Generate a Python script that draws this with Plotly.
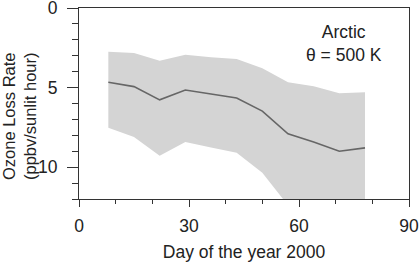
import plotly.graph_objects as go

days = [8, 15, 22, 29, 36, 43, 50, 57, 64, 71, 78]
mean_rate = [4.67, 4.94, 5.77, 5.15, 5.40, 5.65, 6.48, 7.90, 8.42, 9.00, 8.79]
upper_rate = [2.75, 2.83, 3.31, 2.94, 3.10, 3.21, 3.79, 4.67, 4.92, 5.35, 5.29]
lower_rate = [7.52, 8.10, 9.29, 8.42, 8.77, 9.10, 10.35, 12.4, 13.0, 13.6, 14.0]

fig = go.Figure()
fig.add_trace(go.Scatter(x=days, y=upper_rate, mode="lines",
                         line=dict(width=0, color="#d4d4d4"), showlegend=False, hoverinfo="skip"))
fig.add_trace(go.Scatter(x=days, y=lower_rate, mode="lines", fill="tonexty",
                         fillcolor="#d4d4d4", line=dict(width=0, color="#d4d4d4"),
                         showlegend=False, hoverinfo="skip"))
fig.add_trace(go.Scatter(x=days, y=mean_rate, mode="lines",
                         line=dict(width=1.6, color="#666666"), showlegend=False))

font = dict(family="Liberation Sans, Arial, sans-serif", size=17.5, color="#222222")
title_font = dict(family="Liberation Sans, Arial, sans-serif", size=16.5, color="#222222")

L, R, T, B = 79, 10, 8, 63
W, H = 419, 262
pw, ph = W - L - R, H - T - B

fig.update_layout(
    width=W, height=H,
    margin=dict(l=L, r=R, t=T, b=B),
    plot_bgcolor="white", paper_bgcolor="white",
    font=font,
    xaxis=dict(range=[0, 90], tickvals=[0, 30, 60, 90], ticks="outside", ticklen=7,
               tickcolor="#333", tickwidth=1, showline=True, linecolor="#333", linewidth=1,
               mirror=True, showgrid=False, zeroline=False, ticklabeloverflow="allow",
               automargin=False, ticklabelstandoff=4,
               minor=dict(dtick=10, ticks="outside", ticklen=4, tickcolor="#333", showgrid=False),
               title=dict(text="Day of the year 2000", standoff=10, font=font)),
    yaxis=dict(range=[12, 0], tickvals=[0, 5, 10], ticks="outside", ticklen=11,
               tickcolor="#333", tickwidth=1, showline=True, linecolor="#333", linewidth=1,
               mirror=True, showgrid=False, zeroline=False, ticklabeloverflow="allow",
               automargin=False, ticklabelstandoff=6,
               minor=dict(dtick=1, ticks="outside", ticklen=6, tickcolor="#333", showgrid=False)),
    annotations=[
        dict(text="Arctic<br>θ = 500 K", x=72.3, y=2.23, xref="x", yref="y",
             xanchor="center", yanchor="middle",
             showarrow=False, font=font, align="center"),
        dict(text="Ozone Loss Rate<br>(ppbv/sunlit hour)", textangle=-90,
             x=(20 - L) / pw, y=(T + ph - 116) / ph, xref="paper", yref="paper",
             xanchor="center", yanchor="middle",
             showarrow=False, font=title_font, align="center"),
    ],
)

fig.write_html("out.html")
